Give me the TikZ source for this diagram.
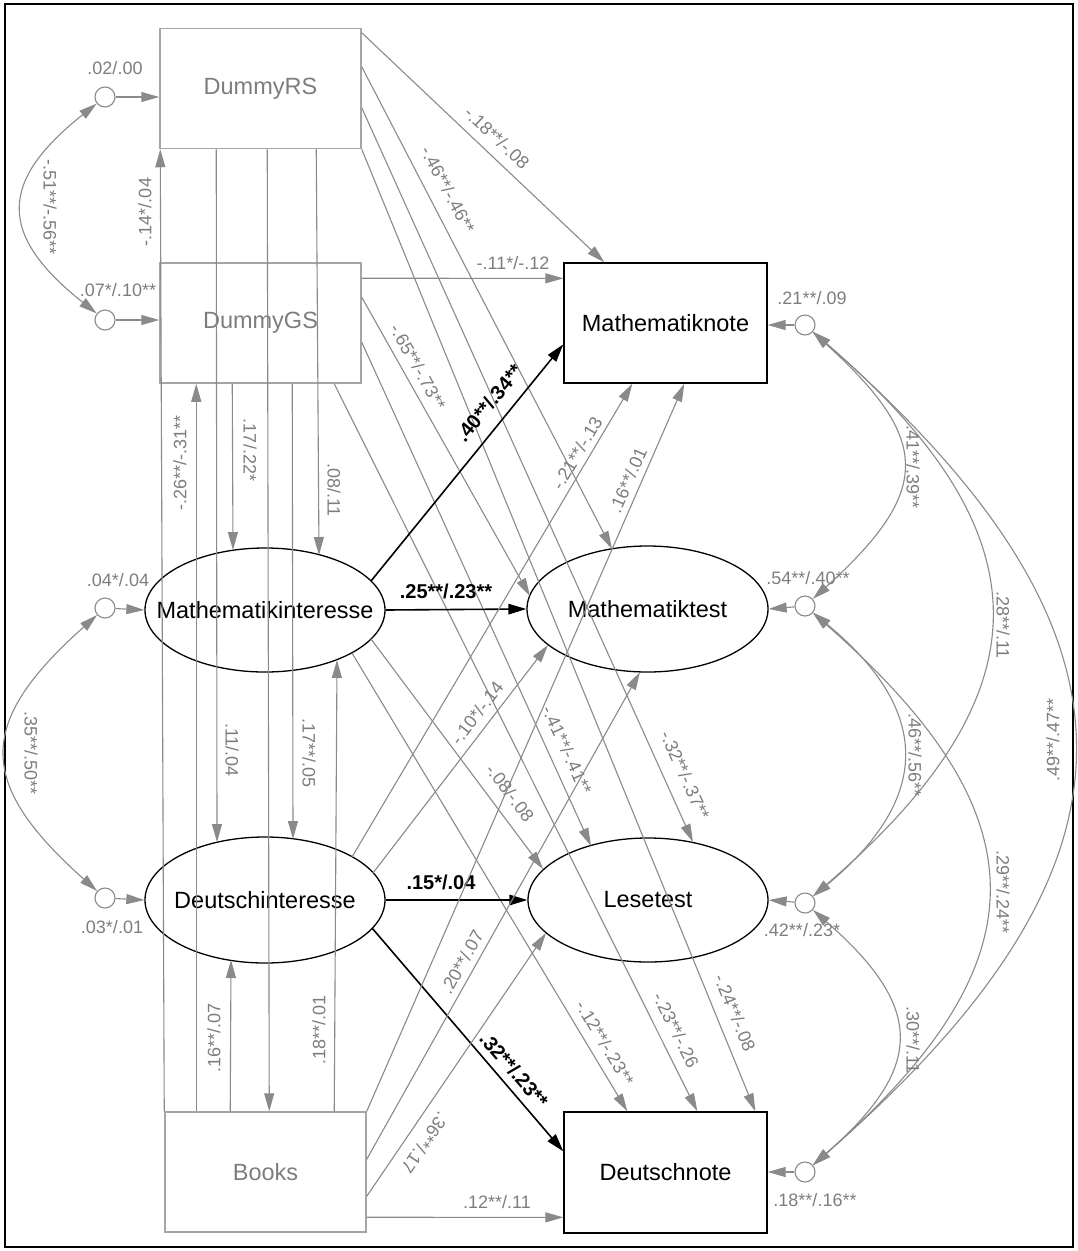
\documentclass[tikz,border=0pt]{standalone}
\usepackage{fontspec}
\setmainfont{Liberation Sans}
\usetikzlibrary{arrows.meta,shapes.geometric,calc}
\definecolor{lbl}{RGB}{125,125,125}
\definecolor{ln}{RGB}{138,138,138}
\definecolor{bx}{RGB}{165,165,165}
\begin{document}
\begin{tikzpicture}[x=1pt,y=-1pt,
  every node/.style={inner sep=0pt},
  nodefont/.style={font=\fontsize{23.5}{28}\selectfont},
  obs/.style={nodefont, draw=bx, line width=1.5pt, minimum width=201, minimum height=120, text=lbl},
  obsk/.style={nodefont, draw=black, line width=1.3pt, minimum width=203, minimum height=120},
  lat/.style={ellipse, draw=black, line width=1.3pt, minimum width=240, minimum height=124,
    label={[nodefont]center:#1}},
  res/.style={circle, draw=ln, line width=1.1pt, minimum size=20},
  pth/.style={draw=ln, line width=1.1pt, -{Triangle[length=18pt,width=10pt]}},
  bpth/.style={draw=black, line width=1.6pt, -{Triangle[length=18pt,width=10.5pt]}},
  cov/.style={draw=ln, line width=1.1pt, {Triangle[length=18pt,width=10pt]}-{Triangle[length=18pt,width=10pt]}},
  val/.style={text=lbl, font=\fontsize{18}{20}\selectfont},
  bval/.style={text=black, font=\fontsize{20}{22}\selectfont\bfseries}]

\useasboundingbox (0,0) rectangle (1077,1251);
\draw[line width=1.3pt] (5,4) rectangle (1073,1247);

% observed and latent variables
\node[obs] (dRS) at (260.5,88.5) {DummyRS};
\node[obs] (dGS) at (260.5,323) {DummyGS};
\node[obs] (books) at (265.5,1172) {Books};
\node[obsk] (mn) at (665.5,323) {Mathematiknote};
\node[obsk, minimum height=121] (dn) at (665.5,1172.5) {Deutschnote};
\node[lat=Mathematikinteresse] (mi) at (265,610) {};
\node[lat=Deutschinteresse, minimum height=126] (di) at (265,900) {};
\node[lat=Mathematiktest, minimum width=241, minimum height=126] (mt) at (647.5,609) {};
\node[lat=Lesetest] (le) at (648,900) {};

% residuals
\node[res] (rRS) at (105,97) {};
\node[res] (rGS) at (105,320) {};
\node[res] (rMI) at (105,608) {};
\node[res] (rDI) at (105,898) {};
\node[res] (rMn) at (805,325) {};
\node[res] (rMt) at (805,606) {};
\node[res] (rLe) at (805,903) {};
\node[res] (rDn) at (805,1172) {};

\draw[pth] (rRS) -- (rRS -| dRS.west);
\draw[pth] (rGS) -- (rGS -| dGS.west);
\draw[pth] (rMI) -- (mi.west);
\draw[pth] (rDI) -- (di.west);
\draw[pth] (rMn) -- (rMn -| mn.east);
\draw[pth] (rMt) -- (mt.east);
\draw[pth] (rLe) -- (le.east);
\draw[pth] (rDn) -- (rDn -| dn.east);

\node[val] at (115,68) {.02/.00};
\node[val] at (118,290) {.07*/.10**};
\node[val] at (118,580) {.04*/.04};
\node[val] at (112,927) {.03*/.01};
\node[val] at (812,298) {.21**/.09};
\node[val] at (808,578) {.54**/.40**};
\node[val] at (802,930) {.42**/.23*};
\node[val] at (815,1200) {.18**/.16**};

% residual covariances
\draw[cov] (rRS) .. controls +(-107,85) and +(-107,-85) .. (rGS);
\node[val, rotate=-90] at (50,207) {-.51**/-.56**};
\draw[cov] (rMI) .. controls +(-129,115) and +(-129,-115) .. (rDI);
\node[val, rotate=-90] at (31,753) {.35**/.50**};

\draw[cov] (rMn) .. controls +(127,115) and +(127,-115) .. (rMt);
\node[val, rotate=-90] at (913,467) {.41**/.39**};
\draw[cov] (rMn) .. controls +(244,210) and +(244,-210) .. (rLe);
\node[val, rotate=-90] at (1003,625) {.28**/.11};
\draw[cov] (rMn) .. controls +(355,310) and +(355,-310) .. (rDn);
\node[val, rotate=90] at (1053,740) {.49**/.47**};
\draw[cov] (rMt) .. controls +(127,105) and +(127,-105) .. (rLe);
\node[val, rotate=-90] at (915,755) {.46**/.56**};
\draw[cov] (rMt) .. controls +(240,210) and +(240,-210) .. (rDn);
\node[val, rotate=-90] at (1003,892) {.29**/.24**};
\draw[cov] (rLe) .. controls +(120,105) and +(120,-105) .. (rDn);
\node[val, rotate=-90] at (913,1040) {.30**/.11};

% vertical paths
\draw[pth] (books.north west) -- ($(dRS.south west)+(1,0)$);
\node[val, rotate=90] at (145,212) {-.14*/.04};
\draw[pth] ($(books.north west)+(32,0)$) -- ($(dGS.south west)+(37,0)$);
\node[val, rotate=90] at (180,463) {-.26**/-.31**};
\draw[pth] ($(dRS.south west)+(57,0)$) -- ($(di.center)+(-48,-58)$);
\node[val, rotate=-90] at (232,750) {.11/.04};
\draw[pth] ($(dGS.south west)+(73,0)$) -- ($(mi.center)+(-32,-60)$);
\node[val, rotate=-90] at (250,450) {.17/.22*};
\draw[pth] ($(dRS.south west)+(108,0)$) -- ($(books.north west)+(105,0)$);
\draw[pth] ($(dGS.south west)+(133,0)$) -- ($(di.center)+(28,-61)$);
\node[val, rotate=-90] at (309,753) {.17**/.05};
\draw[pth] ($(dRS.south west)+(157,0)$) -- ($(mi.center)+(54,-55)$);
\node[val, rotate=-90] at (334,490) {.08/.11};
\draw[pth] ($(books.north west)+(170,0)$) -- ($(mi.center)+(72,50)$);
\node[val, rotate=90] at (319,1030) {.18**/.01};
\draw[pth] ($(books.north west)+(66,0)$) -- ($(di.center)+(-34,60)$);
\node[val, rotate=90] at (214,1038) {.16**/.07};

% paths from DummyRS
\draw[pth] ($(dRS.north east)+(0,5)$) -- ($(mn.north west)+(41,0)$);
\node[val, rotate=-43.3] at (497,138) {-.18**/-.08};
\draw[pth] ($(dRS.north east)+(0,39)$) -- ($(mt.center)+(-35.5,-60)$);
\node[val, rotate=-62.2] at (448,190) {-.46**/-.46**};
\draw[pth] ($(dRS.north east)+(0,80)$) -- ($(le.center)+(45,-58)$);
\node[val, rotate=-65.7] at (685,775) {-.32**/-.37**};
\draw[pth] (dRS.south east) -- ($(dn.north west)+(192,0)$);
\node[val, rotate=-67.7] at (735,1013) {-.24**/-.08};

% paths from DummyGS
\draw[pth] ($(dGS.north east)+(0,16)$) -- ($(mn.north west)+(0,16)$);
\node[val] at (513,263) {-.11*/-.12};
\draw[pth] ($(dGS.north east)+(0,35)$) -- ($(mt.center)+(-117.5,-13)$);
\node[val, rotate=-60.7] at (418,367) {-.65**/-.73**};
\draw[pth] ($(dGS.north east)+(0,80)$) -- ($(le.center)+(-57,-54)$);
\node[val, rotate=-65.4] at (567,750) {-.41**/-.41**};
\draw[pth] ($(dGS.south west)+(175,0)$) -- ($(dn.north west)+(134,0)$);
\node[val, rotate=-63.5] at (676,1030) {-.23**/-.26};

% paths from Mathematikinteresse
\draw[bpth] ($(mi.center)+(106,-29)$) -- ($(mn.north west)+(0,82)$);
\node[bval, rotate=50.6] at (489,403) {.40**/.34**};
\draw[bpth] (mi.east) -- (mt.west);
\node[bval] at (446,591) {.25**/.23**};
\draw[pth] ($(mi.center)+(106,29)$) -- ($(le.center)+(-105,-31)$);
\node[val, rotate=-52.8] at (510,793) {-.08/-.08};
\draw[pth] ($(mi.center)+(87,43)$) -- ($(dn.north west)+(64,0)$);
\node[val, rotate=-58.9] at (605,1043) {-.12**/-.23**};

% paths from Deutschinteresse
\draw[pth] ($(di.center)+(87,-43)$) -- ($(mn.south west)+(69,0)$);
\node[val, rotate=59.2] at (577,453) {-.21**/-.13};
\draw[pth] ($(di.center)+(108,-27)$) -- ($(mt.center)+(-99.5,36)$);
\node[val, rotate=52.7] at (477,713) {-.10*/-.14};
\draw[bpth] (di.east) -- (le.west);
\node[bval] at (441,882) {.15*/.04};
\draw[bpth] ($(di.center)+(107,28)$) -- ($(dn.north west)+(0,40)$);
\node[bval, rotate=-49] at (514,1070) {.32**/.23**};

% paths from Books
\draw[pth] (books.north east) -- ($(mn.south west)+(121,0)$);
\node[val, rotate=66.4] at (628,480) {.16**/.01};
\draw[pth] ($(books.north east)+(0,48)$) -- ($(mt.center)+(-7.5,63)$);
\node[val, rotate=60.7] at (462,962) {.20**/.07};
\draw[pth] ($(books.north east)+(0,85)$) -- ($(le.center)+(-102,33)$);
\node[val, rotate=-124.3] at (425,1143) {.36**/.17};
\draw[pth] ($(books.north east)+(0,106)$) -- ($(dn.north west)+(0,106)$);
\node[val] at (497,1202) {.12**/.11};

\end{tikzpicture}
\end{document}
